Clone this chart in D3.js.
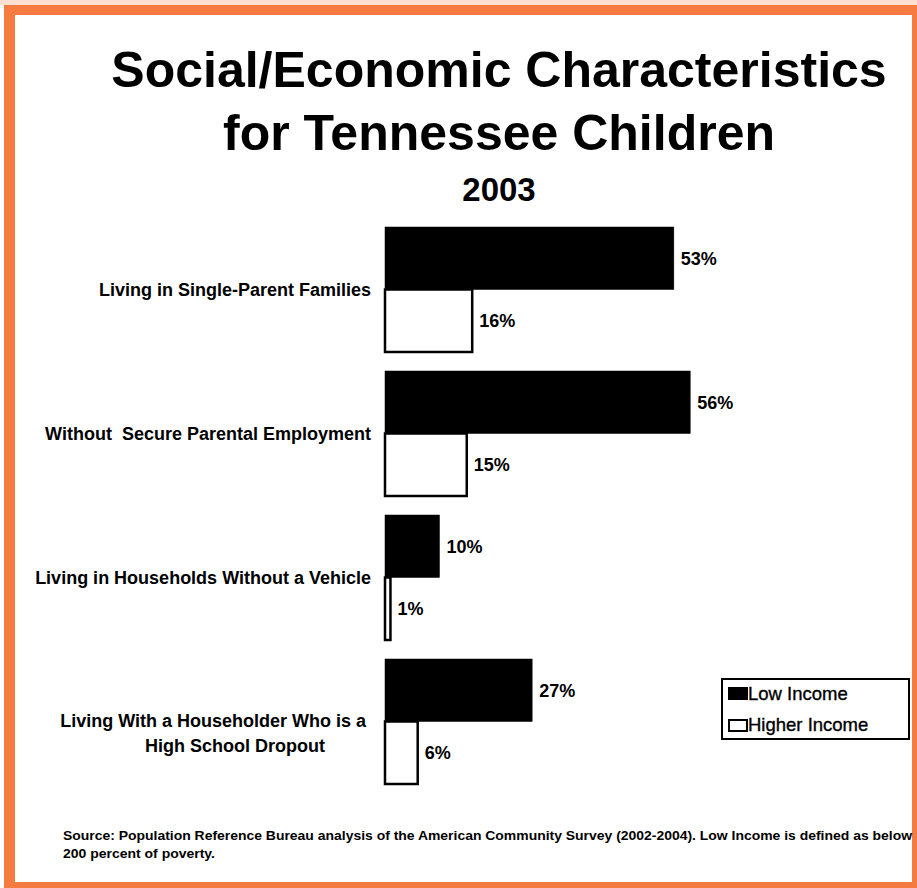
<!DOCTYPE html>
<html>
<head>
<meta charset="utf-8">
<script src="https://cdn.jsdelivr.net/npm/d3@7"></script>
<style>
  html, body { margin: 0; padding: 0; background: #fff; }
  svg { display: block; }
  text { font-family: "Liberation Sans", Arial, Helvetica, sans-serif; fill: #000; }
</style>
</head>
<body>
<svg id="chart" width="917" height="888"></svg>
<script>
// Share of Tennessee children, 2003, by family income level
const categories = [
  "Living in Single-Parent Families",
  "Without  Secure Parental Employment",
  "Living in Households Without a Vehicle",
  "Living With a Householder Who is a\nHigh School Dropout"
];
const series = ["Low Income", "Higher Income"];
const lowIncome = [53, 56, 10, 27];
const higherIncome = [16, 15, 1, 6];
const titleLines = ["Social/Economic Characteristics", "for Tennessee Children"];
const subtitle = "2003";
const sourceLines = [
  "Source: Population Reference Bureau analysis of the American Community Survey (2002-2004). Low Income is defined as below",
  "200 percent of poverty."
];

const W = 917, H = 888;
const orange = "#f57b40";
const svg = d3.select("#chart");

// frame
svg.append("rect").attr("x", 0).attr("y", 0).attr("width", W).attr("height", 5).attr("fill", "#fbe0cf");
svg.append("rect").attr("x", 4).attr("y", 5).attr("width", W - 4).attr("height", 10).attr("fill", orange);
svg.append("rect").attr("x", 4).attr("y", 5).attr("width", 11).attr("height", H - 5).attr("fill", orange);
svg.append("rect").attr("x", 4).attr("y", 882).attr("width", W - 4).attr("height", 6).attr("fill", orange);
svg.append("rect").attr("x", 912).attr("y", 5).attr("width", 5).attr("height", H - 5).attr("fill", orange);

// titles
const cx = 499;
svg.append("text").attr("x", cx).attr("y", 87).attr("text-anchor", "middle")
  .style("font-size", "50px").style("font-weight", "bold").text(titleLines[0]);
svg.append("text").attr("x", cx).attr("y", 150).attr("text-anchor", "middle")
  .style("font-size", "50px").style("font-weight", "bold").text(titleLines[1]);
svg.append("text").attr("x", cx).attr("y", 201).attr("text-anchor", "middle")
  .style("font-size", "33px").style("font-weight", "bold").text(subtitle);

// scales
const x = d3.scaleLinear().domain([0, 60]).range([385, 712]);
const y = d3.scaleBand().domain(categories).range([227, 784]).paddingInner(0.132).paddingOuter(0);
const ySub = d3.scaleBand().domain(series).range([0, y.bandwidth()]);

const rows = categories.map((c, i) => ({
  category: c,
  values: [
    { key: series[0], value: lowIncome[i] },
    { key: series[1], value: higherIncome[i] }
  ]
}));

const groups = svg.append("g").selectAll("g").data(rows).join("g")
  .attr("transform", d => `translate(0,${y(d.category)})`);

groups.selectAll("rect").data(d => d.values).join("rect")
  .attr("x", x(0))
  .attr("y", d => ySub(d.key))
  .attr("width", d => x(d.value) - x(0))
  .attr("height", ySub.bandwidth())
  .attr("fill", d => d.key === series[0] ? "#000" : "#fff")
  .attr("stroke", "#000")
  .attr("stroke-width", d => d.key === series[0] ? 0.5 : 2.5);

groups.selectAll("text.val").data(d => d.values).join("text")
  .attr("class", "val")
  .attr("x", d => x(d.value) + 7)
  .attr("y", d => ySub(d.key) + ySub.bandwidth() / 2)
  .attr("dy", "0.35em")
  .style("font-size", "18px").style("font-weight", "bold")
  .text(d => d.value + "%");

// category labels
const labelRight = 371;
groups.each(function (d) {
  const g = d3.select(this);
  const lines = d.category.split("\n");
  const mid = y.bandwidth() / 2;
  if (lines.length === 1) {
    g.append("text").attr("x", labelRight).attr("y", mid).attr("dy", "0.35em")
      .attr("text-anchor", "end").style("white-space", "pre")
      .style("font-size", "18px").style("font-weight", "bold").text(lines[0]);
  } else {
    g.append("text").attr("x", labelRight - 5).attr("y", mid + 6)
      .attr("text-anchor", "end")
      .style("font-size", "18px").style("font-weight", "bold").text(lines[0]);
    g.append("text").attr("x", 235).attr("y", mid + 31)
      .attr("text-anchor", "middle")
      .style("font-size", "18px").style("font-weight", "bold").text(lines[1]);
  }
});

// legend
const legend = svg.append("g").attr("transform", "translate(722,679)");
legend.append("rect").attr("x", 0).attr("y", 0).attr("width", 187).attr("height", 60)
  .attr("fill", "#fff").attr("stroke", "#000").attr("stroke-width", 2);
series.forEach((s, i) => {
  legend.append("rect").attr("x", 7).attr("y", 9 + i * 32).attr("width", 18).attr("height", 11)
    .attr("fill", i === 0 ? "#000" : "#fff").attr("stroke", "#000").attr("stroke-width", 2);
  legend.append("text").attr("x", 26).attr("y", 21 + i * 31)
    .style("font-size", "18.5px")
    .style("stroke", "#000").style("stroke-width", 0.35)
    .text(s);
});

// source note
const sourceWidths = [849, 152];
sourceLines.forEach((line, i) => {
  svg.append("text").attr("x", 63).attr("y", 840 + i * 18)
    .style("font-size", "13px").style("font-weight", "bold")
    .attr("textLength", sourceWidths[i]).attr("lengthAdjust", "spacingAndGlyphs")
    .text(line);
});
</script>
</body>
</html>
